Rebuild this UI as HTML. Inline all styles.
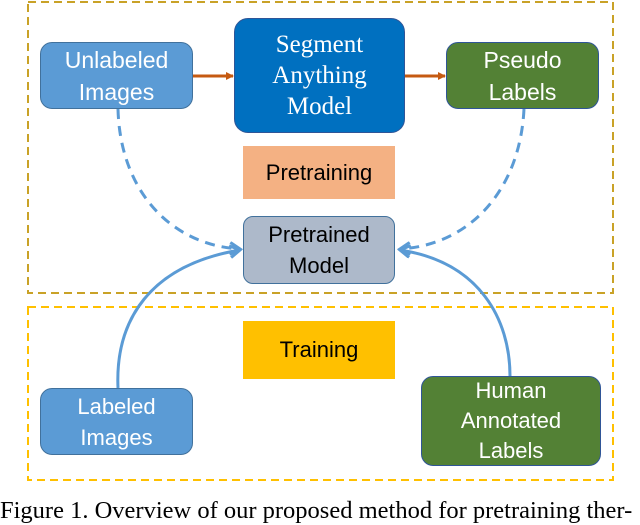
<!DOCTYPE html>
<html><head><style>
body{margin:0;width:640px;height:509px;overflow:hidden;background:#fff;position:relative;font-family:"Liberation Sans",sans-serif}
.b{position:absolute;box-sizing:border-box;display:flex;align-items:center;justify-content:center;text-align:center;color:#fff;font-size:22px;line-height:32px}
</style></head><body>
<svg width="640" height="509" style="position:absolute;left:0;top:0">
<defs>
<marker id="o" markerWidth="8" markerHeight="8" refX="7" refY="4" orient="auto" markerUnits="userSpaceOnUse"><path d="M0,0L8,4L0,8Z" fill="#c55a11"/></marker>
<marker id="bl" markerWidth="14" markerHeight="14" refX="11" refY="7" orient="auto" markerUnits="userSpaceOnUse"><path d="M1,1L11,7L1,13" fill="none" stroke="#5b9bd5" stroke-width="3"/></marker>
</defs>
<rect x="28" y="2" width="585" height="291" fill="none" stroke="#c9a227" stroke-width="2" stroke-dasharray="8,5"/>
<rect x="28" y="307" width="585" height="173" fill="none" stroke="#ffc000" stroke-width="2" stroke-dasharray="8,5"/>
<line x1="193" y1="76" x2="233" y2="76" stroke="#c55a11" stroke-width="3" marker-end="url(#o)"/>
<line x1="405" y1="76" x2="445" y2="76" stroke="#c55a11" stroke-width="3" marker-end="url(#o)"/>
<path d="M118,109 C120,190 170,245 240,249" fill="none" stroke="#5b9bd5" stroke-width="3" stroke-dasharray="10,7" marker-end="url(#bl)"/>
<path d="M524,109 C520,190 470,245 400,249" fill="none" stroke="#5b9bd5" stroke-width="3" stroke-dasharray="10,7" marker-end="url(#bl)"/>
<path d="M118,388 C115,320 150,265 240,250" fill="none" stroke="#5b9bd5" stroke-width="3" marker-end="url(#bl)"/>
<path d="M510,376 C510,320 480,262 400,250" fill="none" stroke="#5b9bd5" stroke-width="3" marker-end="url(#bl)"/>
</svg>
<div class="b" style="left:40px;top:42px;width:153px;height:67px;background:#5b9bd5;border:1.5px solid #41719c;border-radius:12px;font-size:23px">Unlabeled<br>Images</div>
<div class="b" style="left:234px;top:18px;width:171px;height:115px;background:#0070c0;border:1.5px solid #2f5597;border-radius:14px;font-family:'Liberation Serif',serif;font-size:25px;line-height:31px">Segment<br>Anything<br>Model</div>
<div class="b" style="left:446px;top:42px;width:153px;height:67px;background:#538135;border:1.5px solid #2f5597;border-radius:12px;font-size:23px">Pseudo<br>Labels</div>
<div class="b" style="left:243px;top:146px;width:152px;height:53px;background:#f4b183;color:#000;font-size:22px">Pretraining</div>
<div class="b" style="left:243px;top:216px;width:152px;height:68px;background:#adb9ca;border:1.5px solid #41719c;border-radius:10px;color:#000;line-height:31px">Pretrained<br>Model</div>
<div class="b" style="left:243px;top:321px;width:152px;height:58px;background:#ffc000;color:#000;font-size:22px">Training</div>
<div class="b" style="left:40px;top:388px;width:153px;height:67px;background:#5b9bd5;border:1.5px solid #41719c;border-radius:12px;line-height:31px">Labeled<br>Images</div>
<div class="b" style="left:421px;top:376px;width:180px;height:90px;background:#538135;border:1.5px solid #2f5597;border-radius:12px;line-height:30px">Human<br>Annotated<br>Labels</div>
<div style="position:absolute;left:0;top:497px;white-space:nowrap;font-family:'Liberation Serif',serif;font-size:24.5px;color:#000;line-height:28px">Figure 1. Overview of our proposed method for pretraining ther-</div>
</body></html>
